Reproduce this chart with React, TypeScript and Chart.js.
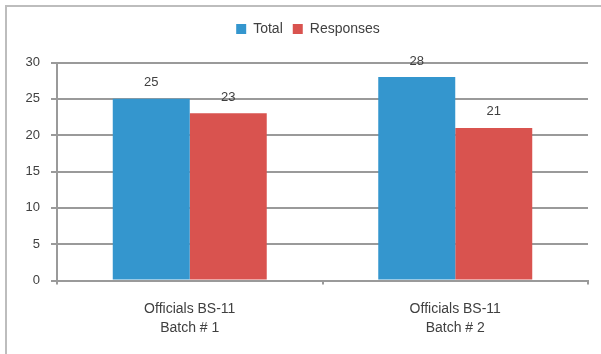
import React, { useEffect, useRef } from "react";
import { Chart, registerables } from "chart.js";

Chart.register(...registerables);

const categories: string[][] = [
  ["Officials BS-11", "Batch # 1"],
  ["Officials BS-11", "Batch # 2"],
];
const seriesNames = ["Total", "Responses"];
const totalValues = [25, 28];
const responseValues = [23, 21];
const yTicksMax = 30;
const yTicksStep = 5;

const BLUE = "#3496CE";
const RED = "#D9534F";
const GRID = "#9a9a9a";
const TEXT = "#404040";
const FONT = "'Liberation Sans', Arial, sans-serif";

const dataLabels = {
  id: "dataLabels",
  afterDatasetsDraw(chart: any) {
    const ctx = chart.ctx;
    ctx.save();
    ctx.font = `13px ${FONT}`;
    ctx.fillStyle = TEXT;
    ctx.textAlign = "center";
    ctx.textBaseline = "middle";
    chart.data.datasets.forEach((ds: any, i: number) => {
      const meta = chart.getDatasetMeta(i);
      meta.data.forEach((el: any, j: number) => {
        ctx.fillText(String(ds.data[j]), el.x, el.y - 16);
      });
    });
    ctx.restore();
  },
};

const legendSpacer = {
  id: "legendSpacer",
  beforeInit(chart: any) {
    const legend = chart.legend;
    if (!legend) return;
    const origFit = legend.fit;
    legend.fit = function () {
      origFit.call(this);
      this.height += 16.5;
    };
    const origDraw = legend.draw;
    legend.draw = function (...args: any[]) {
      const ctx = chart.ctx;
      ctx.save();
      ctx.translate(14, 0);
      origDraw.apply(this, args);
      ctx.restore();
    };
  },
};

export default function App() {
  const ref = useRef<HTMLCanvasElement>(null);
  useEffect(() => {
    if (!ref.current) return;
    const chart = new Chart(ref.current, {
      type: "bar",
      data: {
        labels: categories as any,
        datasets: [
          {
            label: seriesNames[0],
            data: totalValues,
            backgroundColor: BLUE,
            borderWidth: 0,
          },
          {
            label: seriesNames[1],
            data: responseValues,
            backgroundColor: RED,
            borderWidth: 0,
          },
        ],
      },
      options: {
        responsive: false,
        animation: false,
        layout: { padding: { top: 12, left: 0, right: 13, bottom: 0 } },
        datasets: {
          bar: { categoryPercentage: 0.58, barPercentage: 1 },
        } as any,
        plugins: {
          legend: {
            position: "top",
            labels: {
              boxWidth: 10,
              boxHeight: 10,
              padding: 10,
              color: TEXT,
              font: { family: FONT, size: 14 },
            },
          },
          tooltip: { enabled: false },
        },
        scales: {
          x: {
            offset: true,
            grid: {
              offset: true,
              drawOnChartArea: false,
              drawTicks: true,
              tickLength: 4,
              color: GRID,
              lineWidth: 2,
            },
            border: { display: true, color: GRID, width: 2 },
            ticks: {
              color: TEXT,
              font: { family: FONT, size: 14, lineHeight: "19px" } as any,
              padding: 15,
              maxRotation: 0,
              autoSkip: false,
            },
            afterFit(scale: any) {
              scale.height = 73.5;
            },
          },
          y: {
            min: 0,
            max: yTicksMax,
            ticks: {
              stepSize: yTicksStep,
              color: TEXT,
              font: { family: FONT, size: 13 },
              padding: 11,
            },
            grid: {
              color: GRID,
              lineWidth: 2,
              tickLength: 6,
              drawTicks: true,
            },
            border: { display: true, color: GRID, width: 2 },
            afterFit(scale: any) {
              scale.width = 57;
            },
          },
        },
      },
      plugins: [dataLabels, legendSpacer],
    });
    return () => chart.destroy();
  }, []);

  return (
    <div
      style={{
        position: "absolute",
        left: 0,
        top: 0,
        width: 601,
        height: 354,
        background: "#fff",
        overflow: "hidden",
      }}
    >
      <div
        style={{
          position: "absolute",
          left: 5,
          top: 5,
          width: 610,
          height: 400,
          borderLeft: "2px solid #bdbdbd",
          borderTop: "2px solid #bdbdbd",
        }}
      />
      <canvas
        ref={ref}
        width={601}
        height={354}
        style={{ position: "absolute", left: 0, top: 0, width: 601, height: 354 }}
      />
    </div>
  );
}
